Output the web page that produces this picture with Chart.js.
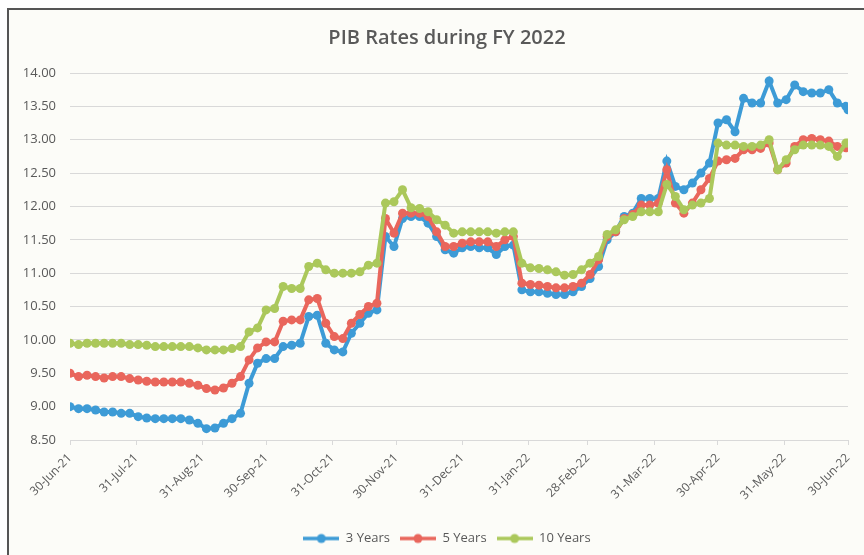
<!DOCTYPE html>
<html>
<head>
<meta charset="utf-8">
<script src="https://cdn.jsdelivr.net/npm/chart.js@4.4.0/dist/chart.umd.min.js"></script>
<style>
  html, body { margin: 0; padding: 0; background: #ffffff; overflow: hidden; width: 864px; height: 555px; }
  #frame { position: absolute; left: 7px; top: 8px; width: 857px; height: 547px;
           border-left: 2px solid #555; border-top: 2px solid #555; background: #fcfcf8; }
  #wrap { position: absolute; left: 0; top: 0; width: 900px; height: 555px; }
</style>
</head>
<body>
<div id="frame"></div>
<div id="wrap"><canvas id="myChart" width="900" height="555"></canvas></div>
<script>
// x positions: days counted from 30-Jun-21
const days = [0,4,8,12,16,20,24,28,32,36,40,44,48,52,56,60,64,68,72,76,80,84,88,92,96,100,
  104,108,112,116,120,124,128,132,136,140,144,148,152,156,160,164,168,172,176,180,184,188,192,196,200,
  204,208,212,216,220,224,228,232,236,240,244,248,252,256,260,264,268,272,276,280,284,288,292,296,300,
  304,308,312,316,320,324,328,332,336,340,344,348,352,356,360,364,365];

const years3 = [9.00,8.97,8.97,8.95,8.92,8.92,8.90,8.90,8.85,8.83,8.82,8.82,8.82,8.82,8.80,8.75,8.67,8.68,8.75,8.82,8.90,9.35,9.65,9.72,9.72,9.90,
  9.92,9.95,10.35,10.37,9.95,9.85,9.82,10.10,10.25,10.40,10.45,11.55,11.40,11.82,11.85,11.85,11.75,11.55,11.35,11.30,11.38,11.40,11.38,11.38,11.28,
  11.40,11.42,10.75,10.72,10.72,10.70,10.68,10.68,10.72,10.80,10.92,11.10,11.50,11.62,11.85,11.90,12.12,12.12,12.12,12.68,12.30,12.25,12.35,12.50,12.65,
  13.25,13.30,13.12,13.62,13.55,13.55,13.88,13.55,13.60,13.82,13.72,13.70,13.70,13.75,13.55,13.50,13.45];

const years5 = [9.50,9.45,9.47,9.45,9.43,9.45,9.45,9.42,9.40,9.38,9.37,9.37,9.37,9.37,9.35,9.32,9.27,9.25,9.28,9.35,9.45,9.70,9.88,9.97,9.97,10.28,
  10.30,10.30,10.60,10.62,10.25,10.05,10.02,10.25,10.38,10.50,10.55,11.82,11.60,11.90,11.90,11.90,11.85,11.62,11.40,11.40,11.45,11.47,11.47,11.47,11.40,
  11.50,11.55,10.85,10.83,10.82,10.80,10.78,10.78,10.80,10.85,10.98,11.20,11.55,11.62,11.82,11.88,12.02,12.02,12.05,12.55,12.05,11.90,12.05,12.25,12.42,
  12.68,12.70,12.72,12.85,12.85,12.87,12.95,12.55,12.65,12.90,13.00,13.02,13.00,12.98,12.90,12.88,12.90];

const years10 = [9.95,9.93,9.95,9.95,9.95,9.95,9.95,9.93,9.93,9.92,9.90,9.90,9.90,9.90,9.90,9.88,9.85,9.85,9.85,9.87,9.90,10.12,10.18,10.45,10.47,10.80,
  10.77,10.77,11.10,11.15,11.05,11.00,11.00,11.00,11.02,11.12,11.15,12.05,12.07,12.25,11.98,11.97,11.92,11.80,11.72,11.60,11.62,11.62,11.62,11.62,11.60,
  11.62,11.62,11.15,11.08,11.07,11.05,11.02,10.97,10.98,11.05,11.15,11.25,11.58,11.65,11.80,11.85,11.92,11.92,11.92,12.33,12.15,11.95,12.02,12.05,12.12,
  12.95,12.92,12.92,12.90,12.90,12.92,13.00,12.55,12.70,12.85,12.92,12.92,12.92,12.90,12.75,12.95,12.95];

const tickDays = [0,31,62,92,123,153,184,215,243,274,304,335,365];
const tickLabels = ['30-Jun-21','31-Jul-21','31-Aug-21','30-Sep-21','31-Oct-21','30-Nov-21','31-Dec-21',
  '31-Jan-22','28-Feb-22','31-Mar-22','30-Apr-22','31-May-22','30-Jun-22'];

const seriesNames = ['3 Years','5 Years','10 Years'];
const colors = ['#3d9bd6','#e9665c','#abc85b'];
const textColor = '#595959';
const fontFamily = "'Open Sans', sans-serif";

function toPoints(vals) {
  return vals.map((v, i) => ({x: days[i], y: v}));
}

function legendIcon(color) {
  const c = document.createElement('canvas');
  c.width = 36; c.height = 12;
  const ctx = c.getContext('2d');
  ctx.strokeStyle = color;
  ctx.lineWidth = 3.5;
  ctx.beginPath(); ctx.moveTo(0, 6); ctx.lineTo(36, 6); ctx.stroke();
  ctx.fillStyle = color;
  ctx.beginPath(); ctx.arc(18, 6, 4.5, 0, Math.PI * 2); ctx.fill();
  return c;
}

function makeDataset(label, vals, color, order) {
  return {
    label: label,
    data: toPoints(vals),
    borderColor: color,
    backgroundColor: color,
    borderWidth: 4,
    pointRadius: 4.5,
    pointBorderWidth: 0,
    pointBackgroundColor: color,
    tension: 0,
    order: order
  };
}

const config = {
  type: 'line',
  data: {
    datasets: [
      makeDataset(seriesNames[0], years3, colors[0], 2),
      makeDataset(seriesNames[1], years5, colors[1], 1),
      makeDataset(seriesNames[2], years10, colors[2], 0)
    ]
  },
  options: {
    responsive: false,
    animation: false,
    layout: { padding: { left: 10, right: 16, top: 0, bottom: 0 } },
    plugins: {
      title: {
        display: true,
        text: 'PIB Rates during FY 2022',
        color: textColor,
        font: { family: fontFamily, size: 20, weight: '600' },
        padding: { top: 26, bottom: 23 }
      },
      legend: {
        position: 'bottom',
        labels: {
          color: textColor,
          font: { family: fontFamily, size: 13 },
          usePointStyle: true,
          pointStyleWidth: 36,
          padding: 10,
          sort: (a, b) => a.datasetIndex - b.datasetIndex,
          generateLabels: (chart) => {
            const items = Chart.defaults.plugins.legend.labels.generateLabels(chart);
            items.forEach((it) => { it.pointStyle = legendIcon(colors[it.datasetIndex]); });
            return items;
          }
        }
      },
      tooltip: { enabled: false }
    },
    scales: {
      x: {
        type: 'linear',
        min: 0,
        max: 365,
        afterBuildTicks: (scale) => { scale.ticks = tickDays.map(d => ({value: d})); },
        afterFit: (scale) => { scale.height = 82; },
        ticks: {
          color: textColor,
          font: { family: fontFamily, size: 12 },
          minRotation: 45,
          maxRotation: 45,
          autoSkip: false,
          padding: 6,
          callback: (v) => tickLabels[tickDays.indexOf(v)]
        },
        grid: { drawOnChartArea: false, drawTicks: true, tickLength: 5, color: '#d9d9d9' },
        border: { display: true, color: '#d9d9d9' }
      },
      y: {
        min: 8.5,
        max: 14,
        afterFit: (scale) => { scale.width = 60; },
        ticks: {
          stepSize: 0.5,
          color: textColor,
          font: { family: fontFamily, size: 13 },
          padding: 14,
          callback: (v) => v.toFixed(2)
        },
        grid: { color: '#d9d9d9', drawTicks: false },
        border: { display: false }
      },
      // empty right-hand box so the title and legend sit centred like the original frame
      spacer: {
        position: 'right',
        display: true,
        afterFit: (scale) => { scale.width = 36; },
        ticks: { display: false },
        grid: { display: false },
        border: { display: false }
      }
    }
  }
};

const myChart = new Chart(document.getElementById('myChart'), config);
</script>
</body>
</html>
